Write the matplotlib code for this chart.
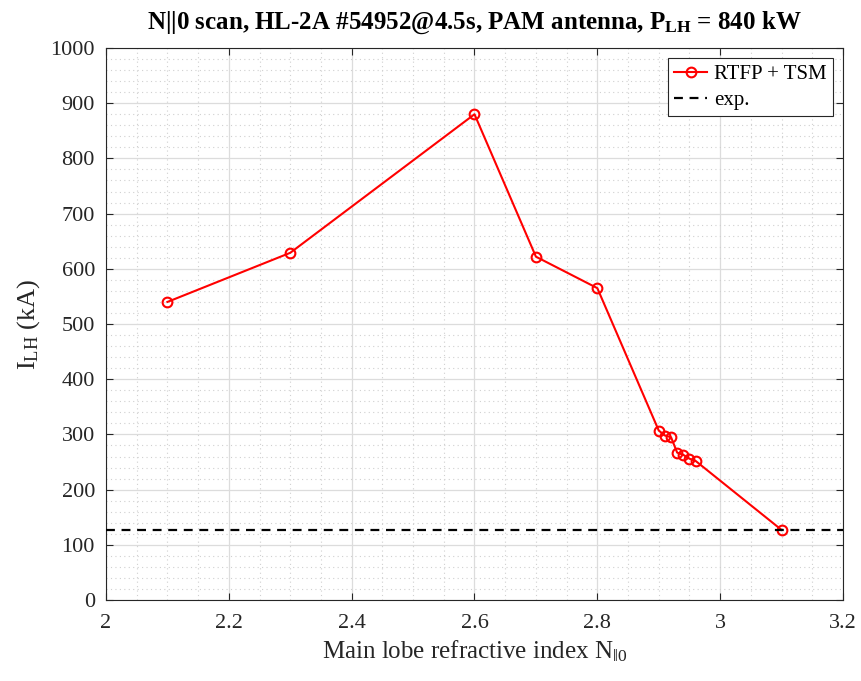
import matplotlib
matplotlib.use("Agg")
import matplotlib.pyplot as plt
from matplotlib.ticker import MultipleLocator

n_par = [2.1, 2.3, 2.6, 2.7, 2.8, 2.9, 2.91, 2.92, 2.93, 2.94, 2.95, 2.96, 3.1]
i_lh = [540, 629, 880, 622, 565, 307, 298, 295, 267, 263, 256, 252, 127]
exp_value = 127

plt.rcParams['font.family'] = ['Liberation Serif', 'DejaVu Serif']
plt.rcParams['mathtext.fontset'] = 'custom'
plt.rcParams['mathtext.rm'] = 'Liberation Serif'
plt.rcParams['mathtext.it'] = 'Liberation Serif:italic'
plt.rcParams['mathtext.bf'] = 'Liberation Serif:bold'

fig = plt.figure(figsize=(8.61, 6.81), dpi=100)
ax = fig.add_axes([0.1231, 0.1189, 0.9791 - 0.1231, 0.9295 - 0.1189])

ax.plot(n_par, i_lh, color='#ff0000', lw=1.5, marker='o', ms=7, mfc='none',
        mec='#ff0000', mew=1.5, label='RTFP + TSM', zorder=3)
ax.axhline(exp_value, color='black', ls=(0, (4, 3)), lw=1.6, label='exp.', zorder=3)

ax.set_xlim(2, 3.2)
ax.set_ylim(0, 1000)
ax.xaxis.set_minor_locator(MultipleLocator(0.05))
ax.yaxis.set_major_locator(MultipleLocator(100))
ax.yaxis.set_minor_locator(MultipleLocator(20))
ax.set_xticks([2, 2.2, 2.4, 2.6, 2.8, 3, 3.2])
ax.set_xticklabels(['2', '2.2', '2.4', '2.6', '2.8', '3', '3.2'])

ax.grid(which='major', color='#dcdcdc', lw=0.9)
ax.grid(which='minor', color='#d0d0d0', lw=0.8, ls=(0, (1, 3)))
ax.set_axisbelow(True)

ax.tick_params(which='both', direction='in', top=True, right=True, colors='#262626',
               labelcolor='#262626')
ax.tick_params(which='major', length=5, labelsize=16)
ax.tick_params(axis='y', which='major', pad=8)
ax.tick_params(axis='x', which='major', pad=10)
ax.tick_params(which='minor', length=0)
for s in ax.spines.values():
    s.set_color('#262626')
    s.set_linewidth(0.8)

ax.set_xlabel(r'Main lobe refractive index N$_{\|0}$', fontsize=18, color='#262626',
              labelpad=4)
ax.set_ylabel(r'I$_{\mathrm{LH}}$ (kA)', fontsize=19, color='#262626', labelpad=6)
ax.set_title(r'N||0 scan, HL-2A #54952@4.5s, PAM antenna, P$_{\mathbf{LH}}$ = 840 kW',
             fontsize=18, fontweight='bold', pad=14)

leg = ax.legend(loc='upper right', fontsize=15, fancybox=False, framealpha=1,
                edgecolor='#262626', borderaxespad=0.5, handlelength=1.6,
                handletextpad=0.3, borderpad=0.3, labelspacing=0.3)
leg.get_frame().set_linewidth(0.8)

fig.savefig('out.png', dpi=100)
